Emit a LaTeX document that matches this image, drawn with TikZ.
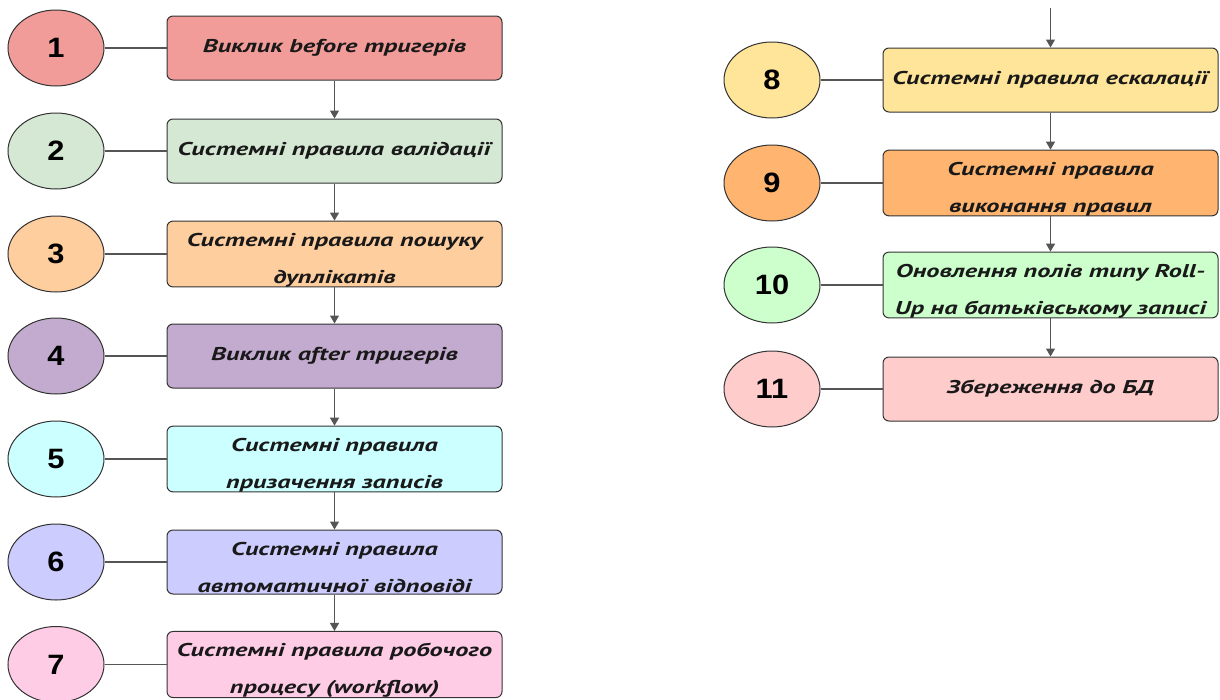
\documentclass[tikz,border=0pt]{standalone}
\usepackage{fontspec}
\setmainfont{Liberation Sans}
\newfontfamily\boxfont[FakeStretch=1.42]{PT Sans}
\newfontfamily\numfont[FakeStretch=1.1]{Liberation Sans}
\usetikzlibrary{shapes.geometric,arrows.meta}
\definecolor{c1}{HTML}{F19C99}
\definecolor{c2}{HTML}{D5E8D4}
\definecolor{c3}{HTML}{FFCE9F}
\definecolor{c4}{HTML}{C3ABD0}
\definecolor{c5}{HTML}{CCFFFF}
\definecolor{c6}{HTML}{CCCCFF}
\definecolor{c7}{HTML}{FFCCE6}
\definecolor{c8}{HTML}{FFE599}
\definecolor{c9}{HTML}{FFB570}
\definecolor{c10}{HTML}{CCFFCC}
\definecolor{c11}{HTML}{FFCCCC}
\definecolor{edge}{HTML}{333333}
\definecolor{link}{HTML}{555555}
\newcommand{\lowstrut}{\rule{0pt}{25pt}}
\tikzset{
  numell/.style={ellipse, draw=edge, line width=1pt, minimum width=96pt, minimum height=76pt, inner sep=0pt,
    font=\numfont\bfseries\fontsize{28}{30}\selectfont, text=black},
  stepbox/.style={rectangle, rounded corners=6pt, draw=edge, line width=1pt, minimum width=335pt, minimum height=64pt,
    inner sep=0pt, align=center, font=\boxfont\bfseries\itshape\fontsize{18.5}{37}\selectfont, text={black!90}},
  tie/.style={draw=link, line width=1.2pt},
  flow/.style={draw=link, line width=1.2pt, -{Triangle[length=8pt,width=9pt]}},
}
\begin{document}
\begin{tikzpicture}[x=1pt,y=-1pt]
\useasboundingbox (0,0) rectangle (1220,699);
% left column
\node[numell, fill=c1] (n1) at (56,48) {1};
\node[stepbox, fill=c1] (b1) at (334.5,48) {Виклик before тригерів};
\node[numell, fill=c2] (n2) at (56,151) {2};
\node[stepbox, fill=c2] (b2) at (334.5,151) {Системні правила валідації};
\node[numell, fill=c3] (n3) at (56,254) {3};
\node[stepbox, fill=c3] (b3) at (334.5,254) {\lowstrut Системні правила пошуку\\дуплікатів};
\node[numell, fill=c4] (n4) at (56,356) {4};
\node[stepbox, fill=c4] (b4) at (334.5,356) {Виклик after тригерів};
\node[numell, fill=c5] (n5) at (56,459) {5};
\node[stepbox, fill=c5] (b5) at (334.5,459) {\lowstrut Системні правила\\призачення записів};
\node[numell, fill=c6] (n6) at (56,562) {6};
\node[stepbox, fill=c6] (b6) at (334.5,562) {\lowstrut Системні правила\\автоматичної відповіді};
\node[numell, fill=c7] (n7) at (56,664.5) {7};
\node[stepbox, fill=c7] (b7) at (334.5,664.5) {\lowstrut Системні правила робочого\\процесу (workflow)};
% right column
\node[numell, fill=c8] (n8) at (772,80) {8};
\node[stepbox, fill=c8] (b8) at (1050.5,80) {Системні правила ескалації};
\node[numell, fill=c9] (n9) at (772,183) {9};
\node[stepbox, fill=c9] (b9) at (1050.5,183) {\lowstrut Системні правила\\виконання правил};
\node[numell, fill=c10] (n10) at (772,285) {10};
\node[stepbox, fill=c10] (b10) at (1050.5,285) {\lowstrut Оновлення полів типу Roll-\\Up на батьківському записі};
\node[numell, fill=c11] (n11) at (772,389) {11};
\node[stepbox, fill=c11] (b11) at (1050.5,389) {Збереження до БД};
\coordinate (top8) at (1050.5,8);
% ties
\foreach \i in {1,...,11} { \draw[tie] (n\i) -- (b\i); }
% flow
\foreach \a/\b in {1/2,2/3,3/4,4/5,5/6,6/7,8/9,9/10,10/11} { \draw[flow] (b\a) -- (b\b); }
\draw[flow] (top8) -- (b8);
\end{tikzpicture}
\end{document}
